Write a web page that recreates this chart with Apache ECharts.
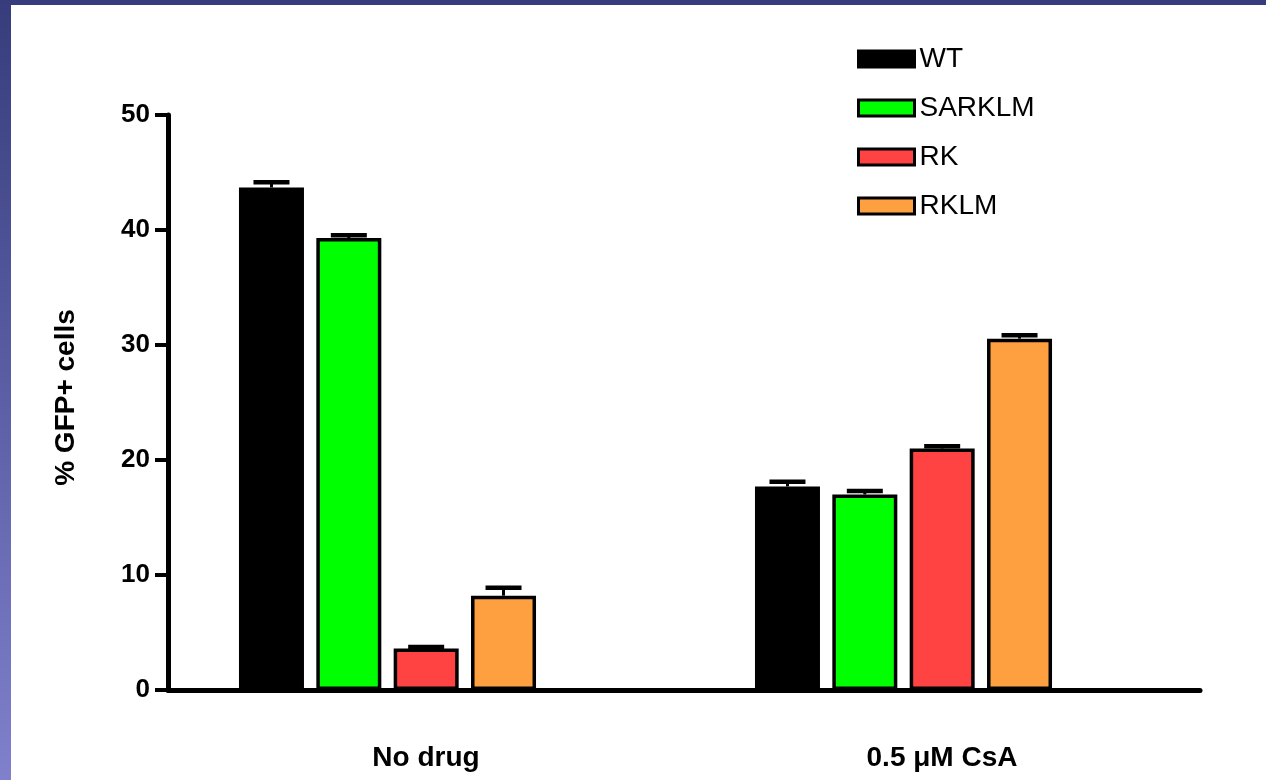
<!DOCTYPE html>
<html>
<head>
<meta charset="utf-8">
<script src="https://cdn.jsdelivr.net/npm/echarts@6/dist/echarts.min.js"></script>
<style>
  html, body { margin: 0; padding: 0; background: #fff; }
  #chart { width: 1266px; height: 780px; }
</style>
</head>
<body>
<div id="chart"></div>
<script>
// ---- data ----
var categories = ['No drug', '0.5 \u03BCM CsA'];
var seriesNames = ['WT', 'SARKLM', 'RK', 'RKLM'];
var wtValues = [43.7, 17.7];
var wtErrors = [0.45, 0.4];
var sarklmValues = [39.3, 17.0];
var sarklmErrors = [0.25, 0.3];
var rkValues = [3.6, 21.0];
var rkErrors = [0.15, 0.2];
var rklmValues = [8.2, 30.55];
var rklmErrors = [0.7, 0.3];
var yTicks = [0, 10, 20, 30, 40, 50];
var yTitle = '% GFP+ cells';

// ---- styles ----
var colors = ['#000000', '#00FF00', '#FF4343', '#FFA040'];
var FONT = '"Liberation Sans", Arial, sans-serif';
var BAR_W = 65;
var BAR_GAP = 0.19;
var CAP = 36;

var allValues = [wtValues, sarklmValues, rkValues, rklmValues];
var allErrors = [wtErrors, sarklmErrors, rkErrors, rklmErrors];

var chart = echarts.init(document.getElementById('chart'), null, { renderer: 'canvas' });

function makeErr(si) {
  return function (params, api) {
    var c = api.value(0), v = api.value(1), e = api.value(2);
    var base = api.coord([c, v]);
    var top = api.coord([c, v + e]);
    var x = base[0] + (si - 1.5) * (BAR_W * (1 + BAR_GAP));
    return {
      type: 'group',
      children: [
        { type: 'line', shape: { x1: x, y1: base[1], x2: x, y2: top[1] }, style: { stroke: '#000', lineWidth: 3 } },
        { type: 'line', shape: { x1: x - CAP / 2, y1: top[1], x2: x + CAP / 2, y2: top[1] }, style: { stroke: '#000', lineWidth: 4.5 } }
      ]
    };
  };
}

var series = [];
seriesNames.forEach(function (name, i) {
  series.push({
    name: name,
    type: 'bar',
    xAxisIndex: 1,
    yAxisIndex: 1,
    barWidth: BAR_W,
    barGap: (BAR_GAP * 100) + '%',
    data: allValues[i],
    itemStyle: { color: colors[i], borderColor: '#000', borderWidth: 3.5 },
    emphasis: { disabled: true },
    z: 3
  });
});
seriesNames.forEach(function (name, i) {
  series.push({
    name: name + ' error',
    type: 'custom',
    xAxisIndex: 1,
    yAxisIndex: 1,
    renderItem: makeErr(i),
    encode: { x: 0, y: 1 },
    data: categories.map(function (c, k) { return [k, allValues[i][k], allErrors[i][k]]; }),
    z: 4
  });
});

var option = {
  backgroundColor: '#ffffff',
  animation: false,
  graphic: [
    { type: 'rect', left: 0, top: 0, shape: { width: 1266, height: 5 }, style: { fill: '#363c7c' }, silent: true },
    { type: 'rect', left: 0, top: 0, shape: { width: 11, height: 780 },
      style: { fill: new echarts.graphic.LinearGradient(0, 0, 0, 1, [
        { offset: 0, color: '#363c7c' }, { offset: 1, color: '#8080cc' }
      ]) }, silent: true }
  ],
  legend: {
    data: seriesNames,
    orient: 'vertical',
    left: 852,
    top: 40,
    icon: 'rect',
    itemWidth: 56,
    itemHeight: 16,
    itemGap: 21,
    selectedMode: false,
    itemStyle: { borderColor: '#000', borderWidth: 3 },
    textStyle: { fontFamily: FONT, fontSize: 28, color: '#000', lineHeight: 28 }
  },
  grid: [
    { left: 168, right: 66, top: 115, bottom: 90, containLabel: false },
    { left: 129.5, right: 104.5, top: 115, bottom: 90, containLabel: false }
  ],
  xAxis: [
    {
      type: 'category', gridIndex: 0, data: categories,
      axisLine: { show: true, lineStyle: { color: '#000', width: 5 } },
      axisTick: { show: false },
      axisLabel: { fontFamily: FONT, fontWeight: 'bold', fontSize: 28, color: '#000', margin: 54 },
      splitLine: { show: false }
    },
    { type: 'category', gridIndex: 1, data: categories, show: false }
  ],
  yAxis: [
    {
      type: 'value', gridIndex: 0, min: yTicks[0], max: yTicks[yTicks.length - 1], interval: yTicks[1] - yTicks[0],
      name: yTitle, nameLocation: 'middle', nameRotate: 90, nameGap: 88,
      nameTextStyle: { fontFamily: FONT, fontWeight: 'bold', fontSize: 28, color: '#000', padding: [0, 0, 0, 10] },
      axisLine: { show: true, lineStyle: { color: '#000', width: 5 } },
      axisTick: { show: true, length: 13, lineStyle: { color: '#000', width: 4 } },
      axisLabel: { fontFamily: FONT, fontWeight: 'bold', fontSize: 26, color: '#000', margin: 18 },
      splitLine: { show: false }
    },
    { type: 'value', gridIndex: 1, min: yTicks[0], max: yTicks[yTicks.length - 1], show: false }
  ],
  series: series
};
chart.setOption(option);
</script>
</body>
</html>
